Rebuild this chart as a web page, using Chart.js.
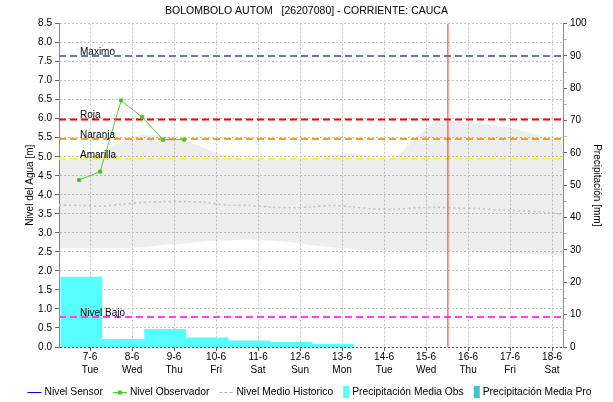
<!DOCTYPE html>
<html lang="es">
<head>
<meta charset="UTF-8">
<title>BOLOMBOLO AUTOM - Nivel y Precipitación</title>
<script src="https://cdn.jsdelivr.net/npm/chart.js@4.4.1/dist/chart.umd.min.js"></script>
<style>
  body { margin: 0; background: #fff; }
  #caja { width: 613px; height: 402px; }
</style>
</head>
<body>
<div id="caja"><canvas id="grafica" width="613" height="402"></canvas></div>
<script>
  // Eje de tiempo: días de junio
  const dias = [7, 8, 9, 10, 11, 12, 13, 14, 15, 16, 17, 18];
  const nombresDia = ['Tue', 'Wed', 'Thu', 'Fri', 'Sat', 'Sun', 'Mon', 'Tue', 'Wed', 'Thu', 'Fri', 'Sat'];
  const ejeInicio = 6.26;
  const ejeFin = 18.26;
  const ahora = 15.52;

  // Nivel observador (m), lecturas cada 12 h
  const obsTiempo = [6.74, 7.24, 7.74, 8.24, 8.74, 9.24];
  const obsNivel = [4.39, 4.61, 6.48, 6.04, 5.45, 5.45];

  // Precipitación diaria observada (mm); el día hidrológico cierra a las 07:00
  const precDias = [7, 8, 9, 10, 11, 12, 13];
  const precObs = [21.7, 2.5, 5.6, 2.9, 2.0, 1.6, 0.9];
  const corteDia = 0.29;

  // Umbrales de nivel (m)
  const umbralNombres = ['Maximo', 'Roja', 'Naranja', 'Amarilla', 'Nivel Bajo'];
  const umbralValores = [7.65, 5.98, 5.47, 4.95, 0.79];

  // Nivel histórico: envolvente y media (m)
  const histTiempo = [6.26, 6.75, 7.25, 7.75, 8.25, 8.75, 9.25, 9.75, 10.25, 10.75, 11.25, 11.75,
                      12.25, 12.75, 13.25, 13.75, 14.25, 14.75, 15.25, 15.75, 16.25, 16.75, 17.25, 17.75, 18.26];
  const histMax = [4.93, 4.95, 5.1, 5.4, 5.58, 5.55, 5.42, 5.22, 5.02, 4.95, 4.93, 4.94,
                   4.97, 5.05, 5.1, 4.97, 4.98, 5.5, 5.92, 5.92, 5.88, 5.8, 5.7, 5.55, 5.38];
  const histMin = [2.6, 2.6, 2.6, 2.6, 2.62, 2.68, 2.72, 2.78, 2.8, 2.82, 2.8, 2.75,
                   2.68, 2.62, 2.57, 2.54, 2.52, 2.5, 2.52, 2.52, 2.5, 2.48, 2.45, 2.42, 2.4];
  const histMedia = [3.73, 3.72, 3.7, 3.75, 3.8, 3.82, 3.82, 3.8, 3.73, 3.72, 3.68, 3.66,
                     3.68, 3.72, 3.68, 3.63, 3.62, 3.66, 3.67, 3.65, 3.64, 3.6, 3.58, 3.55, 3.48];

  const umbralColores = ['#6b7aa1', '#ff0000', '#ff9c1a', '#ffff00', '#ff3cff'];
  const fuente = '"Liberation Sans", Arial, sans-serif';

  const serie = (xs, ys) => xs.map((x, i) => ({ x: x, y: ys[i] }));

  // barras escalonadas: cada valor cubre su día hidrológico
  const precPuntos = precDias.map((d, i) => ({ x: d - 1 + corteDia, y: precObs[i] }));
  precPuntos.push({ x: precDias[precDias.length - 1] + corteDia, y: precObs[precObs.length - 1] });

  // símbolos de la leyenda
  const itemsLeyenda = [
    { text: 'Nivel Sensor', tipo: 'linea', color: '#0000ff', ancho: 14 },
    { text: 'Nivel Observador', tipo: 'punto', color: '#44cc22', ancho: 14 },
    { text: 'Nivel Medio Historico', tipo: 'guion', color: '#b0b0b0', ancho: 14 },
    { text: 'Precipitación Media Obs', tipo: 'caja', color: '#55ffff', ancho: 6 },
    { text: 'Precipitación Media Pro', tipo: 'caja', color: '#3fc6c6', ancho: 6 }
  ];

  const datasets = [];
  // umbrales
  umbralValores.forEach((v, i) => {
    datasets.push({
      label: umbralNombres[i], type: 'line', yAxisID: 'y', order: 3,
      data: [{ x: ejeInicio, y: v }, { x: ejeFin, y: v }],
      borderColor: umbralColores[i], borderWidth: 2, borderDash: [7, 4],
      pointRadius: 0, fill: false
    });
  });
  datasets.push({
    label: 'Ahora', type: 'line', yAxisID: 'y', order: 2,
    data: [{ x: ahora, y: 0 }, { x: ahora, y: 8.5 }],
    borderColor: '#ff2020', borderWidth: 1, pointRadius: 0, fill: false
  });
  datasets.push({
    label: 'Nivel Sensor', type: 'line', yAxisID: 'y', order: 1,
    data: [], borderColor: '#0000ff', borderWidth: 1, pointRadius: 0
  });
  datasets.push({
    label: 'Nivel Observador', type: 'line', yAxisID: 'y', order: 0,
    data: serie(obsTiempo, obsNivel),
    borderColor: '#55cc33', backgroundColor: '#44bb22', borderWidth: 1,
    pointStyle: 'rect', pointRadius: 2.2, fill: false, tension: 0
  });
  datasets.push({
    label: 'Nivel Medio Historico', type: 'line', yAxisID: 'y', order: 4,
    data: serie(histTiempo, histMedia),
    borderColor: '#c0c0c0', borderWidth: 1.6, borderDash: [2, 3],
    pointRadius: 0, fill: false, tension: 0.3
  });
  const idxMax = datasets.length;
  datasets.push({
    label: 'Histórico máximo', type: 'line', yAxisID: 'y', order: 6,
    data: serie(histTiempo, histMax),
    borderWidth: 0, pointRadius: 0, tension: 0.3,
    fill: { target: idxMax + 1 }, backgroundColor: 'rgba(0,0,0,0.065)'
  });
  datasets.push({
    label: 'Histórico mínimo', type: 'line', yAxisID: 'y', order: 6,
    data: serie(histTiempo, histMin),
    borderWidth: 0, pointRadius: 0, tension: 0.3, fill: false
  });
  datasets.push({
    label: 'Precipitación Media Obs', type: 'line', yAxisID: 'y2', order: 5,
    data: precPuntos, stepped: 'before',
    borderWidth: 0, pointRadius: 0, fill: 'origin', backgroundColor: '#55ffff'
  });
  datasets.push({
    label: 'Precipitación Media Pro', type: 'line', yAxisID: 'y2', order: 5,
    data: [], stepped: 'before', borderWidth: 0, pointRadius: 0,
    fill: 'origin', backgroundColor: '#3fc6c6'
  });

  // etiquetas de los umbrales sobre cada línea
  const etiquetasUmbral = {
    id: 'etiquetasUmbral',
    afterDatasetsDraw(chart) {
      const { ctx, chartArea, scales } = chart;
      ctx.save();
      ctx.font = '10px ' + fuente;
      ctx.fillStyle = '#000';
      ctx.textBaseline = 'alphabetic';
      umbralNombres.forEach((n, i) => {
        const y = scales.y.getPixelForValue(umbralValores[i]);
        ctx.fillText(n, chartArea.left + 21, y - 1);
      });
      ctx.restore();
    }
  };

  // leyenda en una sola fila, centrada al pie
  const leyenda = {
    id: 'leyenda',
    afterDraw(chart) {
      const ctx = chart.ctx;
      const sep = 10, hueco = 3;
      ctx.save();
      ctx.font = '10.3px ' + fuente;
      ctx.textBaseline = 'middle';
      const anchos = itemsLeyenda.map(it => it.ancho + hueco + ctx.measureText(it.text).width);
      const total = anchos.reduce((a, b) => a + b, 0) + sep * (itemsLeyenda.length - 1);
      let x = (chart.width - total) / 2 + 3;
      const y = chart.height - 10;
      itemsLeyenda.forEach((it, i) => {
        ctx.fillStyle = it.color;
        ctx.strokeStyle = it.color;
        if (it.tipo === 'caja') {
          ctx.fillRect(x, y - 6, it.ancho, 12);
        } else {
          ctx.lineWidth = 1;
          ctx.setLineDash(it.tipo === 'guion' ? [3, 2] : []);
          ctx.beginPath();
          ctx.moveTo(x, y + 0.5);
          ctx.lineTo(x + it.ancho, y + 0.5);
          ctx.stroke();
          ctx.setLineDash([]);
          if (it.tipo === 'punto') ctx.fillRect(x + it.ancho / 2 - 2, y - 1.5, 4, 4);
        }
        ctx.fillStyle = '#000';
        ctx.fillText(it.text, x + it.ancho + hueco, y);
        x += anchos[i] + sep;
      });
      ctx.restore();
    }
  };

  const rejilla = '#c4c4c4';

  new Chart('grafica', {
    type: 'line',
    data: { datasets: datasets },
    plugins: [etiquetasUmbral, leyenda],
    options: {
      responsive: false,
      animation: false,
      layout: { padding: { left: 0, right: 0, top: 0, bottom: 22 } },
      plugins: {
        title: {
          display: true,
          text: 'BOLOMBOLO AUTOM   [26207080] - CORRIENTE: CAUCA',
          color: '#000',
          font: { family: fuente, size: 10.5, weight: 'normal' },
          padding: { top: 5, bottom: 6 }
        },
        legend: { display: false },
        tooltip: { enabled: false }
      },
      scales: {
        x: {
          type: 'linear',
          min: ejeInicio,
          max: ejeFin,
          afterBuildTicks: (s) => { s.ticks = dias.map(d => ({ value: d })); },
          afterFit: (s) => { s.height = 33; },
          ticks: {
            color: '#000',
            font: { family: fuente, size: 10, lineHeight: 1.25 },
            maxRotation: 0,
            autoSkip: false,
            padding: 0,
            callback: (v) => {
              const i = dias.indexOf(v);
              return [v + '-6', nombresDia[i]];
            }
          },
          grid: { color: rejilla, tickColor: '#666', tickLength: 4 },
          border: { display: false, dash: [2, 2] }
        },
        y: {
          position: 'left',
          min: 0,
          max: 8.5,
          afterFit: (s) => { s.width = 59; },
          ticks: {
            stepSize: 0.5,
            color: '#000',
            font: { family: fuente, size: 10 },
            padding: 3,
            callback: (v) => v.toFixed(1)
          },
          grid: {
            color: (c) => (c.tick && c.tick.value === 0) ? '#555' : rejilla,
            tickColor: '#666',
            tickLength: 4
          },
          border: { display: true, color: '#8a8a8a', width: 1, dash: [2, 2] },
          title: {
            display: true,
            text: 'Nivel del Agua [m]',
            color: '#000',
            font: { family: fuente, size: 10 },
            padding: { top: 24, bottom: 0 }
          }
        },
        y2: {
          position: 'right',
          min: 0,
          max: 100,
          afterFit: (s) => { s.width = 50; },
          ticks: {
            stepSize: 5,
            color: '#000',
            font: { family: fuente, size: 10 },
            padding: 3,
            callback: (v) => (v % 10 === 0 ? v : '')
          },
          grid: {
            drawOnChartArea: false,
            tickColor: (c) => (c.tick && c.tick.value % 10 === 0) ? '#666' : '#bbb',
            tickLength: 4
          },
          border: { display: true, color: '#8a8a8a', width: 1 },
          title: {
            display: true,
            text: 'Precipitación [mm]',
            color: '#000',
            font: { family: fuente, size: 10 },
            padding: { top: 10, bottom: 0 }
          }
        }
      }
    }
  });
</script>
</body>
</html>
